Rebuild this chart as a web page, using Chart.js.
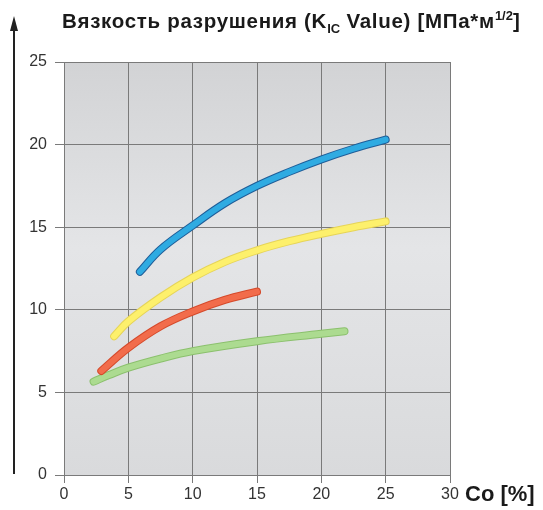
<!DOCTYPE html>
<html lang="ru">
<head>
    <meta charset="UTF-8">
    <title>Вязкость разрушения</title>
    <script src="https://cdn.jsdelivr.net/npm/chart.js"></script>
    <style>
        body {
            margin: 0;
            background: #fff;
            font-family: 'Liberation Sans', Arial, sans-serif;
        }
        .wrap {
            position: relative;
            width: 543px;
            height: 510px;
        }
        .title {
            position: absolute;
            left: 62px;
            top: 9px;
            font-size: 20.5px;
            letter-spacing: 0.7px;
            font-weight: bold;
            color: #1a1a1a;
            white-space: nowrap;
        }
        .title sub, .title sup {
            font-size: 13px;
            line-height: 0;
            letter-spacing: 0;
        }
        .xlabel {
            position: absolute;
            left: 465px;
            top: 481px;
            font-size: 22px;
            font-weight: bold;
            color: #1a1a1a;
            white-space: nowrap;
        }
    </style>
</head>
<body>
    <div class="wrap">
        <canvas id="kicChart" width="543" height="510"></canvas>
        <div class="title">Вязкость разрушения (K<sub>IC</sub> Value) [МПа*м<sup>1/2</sup>]</div>
        <div class="xlabel">Co [%]</div>
    </div>

    <script>
        // Co [%] и K_IC для каждой кривой
        const blueCo   = [5.9, 7.5, 10, 12.5, 15, 17.5, 20, 22.5, 25];
        const blueKic  = [12.3, 13.65, 15.1, 16.45, 17.5, 18.35, 19.1, 19.75, 20.3];
        const yellowCo  = [3.9, 5, 7.5, 10, 12.5, 15, 17.5, 20, 22.5, 25];
        const yellowKic = [8.4, 9.3, 10.75, 11.95, 12.9, 13.6, 14.15, 14.6, 15.0, 15.35];
        const redCo  = [2.9, 5, 7.5, 10, 12.5, 15];
        const redKic = [6.3, 7.7, 9.0, 9.9, 10.6, 11.1];
        const greenCo  = [2.3, 3.5, 5, 7.5, 10, 15, 20, 21.8];
        const greenKic = [5.65, 6.05, 6.5, 7.05, 7.5, 8.1, 8.55, 8.7];

        const xTicks = [0, 5, 10, 15, 20, 25, 30];
        const yTicks = [0, 5, 10, 15, 20, 25];

        const pts = (xs, ys) => xs.map((x, i) => ({ x: x, y: ys[i] }));

        function curve(xs, ys, color, width) {
            return {
                data: pts(xs, ys),
                borderColor: color,
                borderWidth: width,
                borderCapStyle: 'round',
                borderJoinStyle: 'round',
                pointRadius: 0,
                tension: 0.4,
                fill: false
            };
        }

        const plotBackground = {
            id: 'plotBackground',
            beforeDraw(chart) {
                const { ctx, chartArea: a } = chart;
                const g = ctx.createLinearGradient(0, a.top, 0, a.bottom);
                g.addColorStop(0, '#d2d3d5');
                g.addColorStop(0.45, '#e4e5e7');
                g.addColorStop(1, '#d9dadc');
                ctx.save();
                ctx.fillStyle = g;
                ctx.fillRect(a.left, a.top, a.right - a.left, a.bottom - a.top);
                ctx.restore();
            }
        };

        // стрелка слева
        const arrow = {
            id: 'arrow',
            afterDraw(chart) {
                const ctx = chart.ctx;
                ctx.save();
                ctx.strokeStyle = '#222';
                ctx.fillStyle = '#222';
                ctx.lineWidth = 2;
                ctx.beginPath();
                ctx.moveTo(14, 474);
                ctx.lineTo(14, 28);
                ctx.stroke();
                ctx.beginPath();
                ctx.moveTo(14, 16);
                ctx.lineTo(10, 31);
                ctx.lineTo(18, 31);
                ctx.closePath();
                ctx.fill();
                ctx.restore();
            }
        };

        // Chart.js рисует первый набор поверх, поэтому светлая середина идёт первой
        const ctx = document.getElementById('kicChart').getContext('2d');
        new Chart(ctx, {
            type: 'line',
            data: {
                datasets: [
                    curve(blueCo, blueKic, '#2fabe2', 6),
                    curve(blueCo, blueKic, '#1f5d98', 8),
                    curve(yellowCo, yellowKic, '#fdf06c', 6),
                    curve(yellowCo, yellowKic, '#e6d458', 8),
                    curve(redCo, redKic, '#f26c4b', 6),
                    curve(redCo, redKic, '#d54a2b', 8),
                    curve(greenCo, greenKic, '#acdb90', 6),
                    curve(greenCo, greenKic, '#8bc06d', 8)
                ]
            },
            options: {
                responsive: false,
                animation: false,
                layout: { padding: { top: 62, right: 93, left: 0, bottom: 0 } },
                plugins: {
                    legend: { display: false },
                    tooltip: { enabled: false }
                },
                scales: {
                    x: {
                        type: 'linear',
                        min: 0,
                        max: 30,
                        afterBuildTicks: s => { s.ticks = xTicks.map(v => ({ value: v })); },
                        afterFit: s => { s.height = 35; },
                        grid: { color: '#7a7a7a', lineWidth: 1, tickLength: 8 },
                        border: { display: false },
                        ticks: { color: '#333', font: { family: "'Liberation Sans', Arial", size: 16 }, padding: 2 }
                    },
                    y: {
                        min: 0,
                        max: 25,
                        afterBuildTicks: s => { s.ticks = yTicks.map(v => ({ value: v })); },
                        afterFit: s => { s.width = 64; },
                        grid: { color: '#7a7a7a', lineWidth: 1, tickLength: 9 },
                        border: { display: false },
                        ticks: { color: '#333', font: { family: "'Liberation Sans', Arial", size: 16 }, padding: 8 }
                    }
                }
            },
            plugins: [plotBackground, arrow]
        });
    </script>
</body>
</html>
